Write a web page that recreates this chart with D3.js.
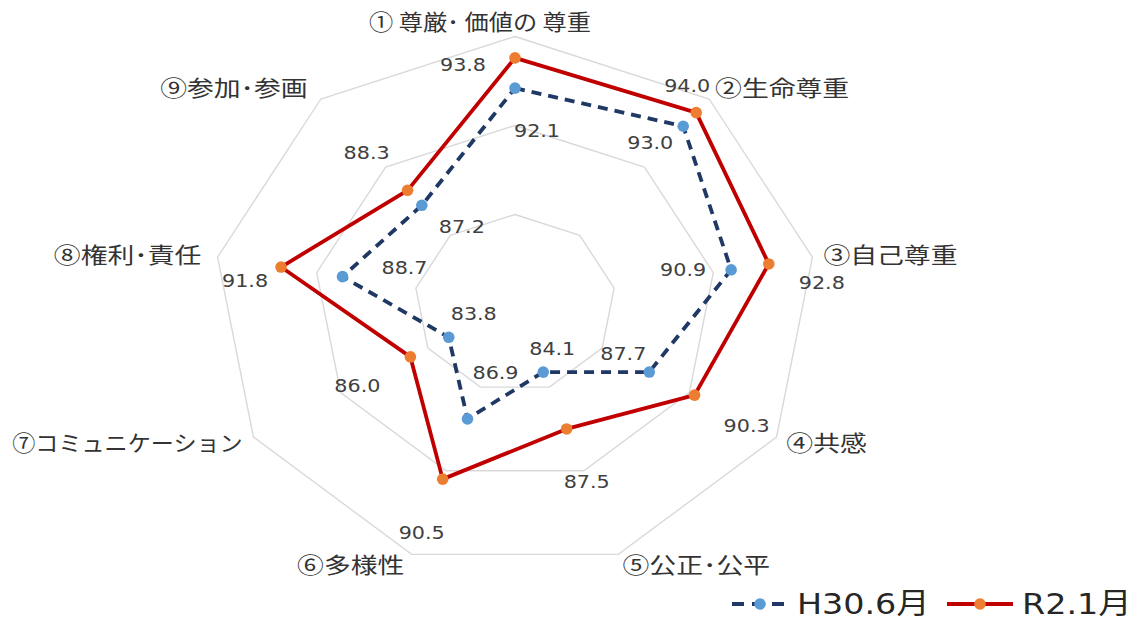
<!DOCTYPE html>
<html>
<head>
<meta charset="utf-8">
<script src="https://cdn.jsdelivr.net/npm/d3@7"></script>
<style>
  html, body { margin: 0; padding: 0; background: #ffffff; }
  svg { display: block; }
</style>
</head>
<body>
<svg id="chart" width="1143" height="622"></svg>
<script>
// ---- data ----
const categories = ["① 尊厳･ 価値の 尊重", "②生命尊重", "③自己尊重", "④共感", "⑤公正･公平", "⑥多様性", "⑦コミュニケーション", "⑧権利･責任", "⑨参加･参画"];
const seriesNames = ["H30.6月", "R2.1月"];
const h30Values = [92.1, 93.0, 90.9, 87.7, 84.1, 86.9, 83.8, 88.7, 87.2];
const r2Values  = [93.8, 94.0, 92.8, 90.3, 87.5, 90.5, 86.0, 91.8, 88.3];
const gridLevels = [85, 90, 95];
const axisMin = 80, axisMax = 95;

// ---- layout / style (not data) ----
const W = 1143, H = 622;
const cx = 515, cy = 303.5;
const RX = 302, RY = 267;     // reference is horizontally stretched
const SX = 1.15;              // text horizontal stretch
const h30LabelOffsets = [[22,42],[-33,16],[-48,0],[-26,-19],[9,-24],[28,-46],[25,-24],[62,-9],[40,21]];
const r2LabelOffsets  = [[-52,7],[-9,-27],[53,19],[52,30],[20,53],[-21,53],[-53,29],[-36,13],[-41,-38]];
const catLabelOffsets = [[-35,-14],[73,-11],[78,-2],[50,6],[78,11],[-61,11],[-126,6],[-90,-2],[-87,-11]];
const catLabelScale   = [1.1, 1.22, 1.22, 1.22, 1.22, 1.22, 1.05, 1.22, 1.22];

const svg = d3.select("#chart");
svg.append("rect").attr("width", W).attr("height", H).attr("fill", "#ffffff");

const rx = d3.scaleLinear().domain([axisMin, axisMax]).range([0, RX]);
const ry = d3.scaleLinear().domain([axisMin, axisMax]).range([0, RY]);
const angle = d3.scaleLinear().domain([0, categories.length]).range([0, 2 * Math.PI]);

const px = (v, i) => cx + rx(v) * Math.sin(angle(i));
const py = (v, i) => cy - ry(v) * Math.cos(angle(i));

// grid polygons
const gridG = svg.append("g");
gridLevels.forEach(level => {
  const pts = categories.map((c, i) => [px(level, i), py(level, i)]);
  gridG.append("path")
    .attr("d", d3.line().curve(d3.curveLinearClosed)(pts))
    .attr("fill", "none")
    .attr("stroke", "#d9d9d9")
    .attr("stroke-width", 1.4);
});

// series
const series = [
  { name: seriesNames[0], values: h30Values, line: "#1f3864", marker: "#5b9bd5", dash: "10,7", offsets: h30LabelOffsets },
  { name: seriesNames[1], values: r2Values,  line: "#c00000", marker: "#ed7d31", dash: null,   offsets: r2LabelOffsets }
];

const lineGen = d3.line().curve(d3.curveLinearClosed);
series.forEach(s => {
  const pts = s.values.map((v, i) => [px(v, i), py(v, i)]);
  const g = svg.append("g");
  g.append("path")
    .attr("d", lineGen(pts))
    .attr("fill", "none")
    .attr("stroke", s.line)
    .attr("stroke-width", 3.8)
    .attr("stroke-linejoin", "round")
    .attr("stroke-dasharray", s.dash);
  g.selectAll("circle").data(pts).join("circle")
    .attr("cx", d => d[0]).attr("cy", d => d[1])
    .attr("r", 5.8)
    .attr("fill", s.marker);
});

// data labels
series.forEach(s => {
  svg.append("g").selectAll("text").data(s.values).join("text")
    .attr("transform", (v, i) => `translate(${px(v, i) + s.offsets[i][0]},${py(v, i) + s.offsets[i][1]}) scale(${SX},1)`)
    .attr("text-anchor", "middle")
    .attr("dy", "0.36em")
    .attr("font-family", "'DejaVu Sans', sans-serif")
    .attr("font-size", 18)
    .attr("fill", "#404040")
    .text(v => v.toFixed(1));
});

// category labels
svg.append("g").selectAll("text").data(categories).join("text")
  .attr("transform", (c, i) => `translate(${px(axisMax, i) + catLabelOffsets[i][0]},${py(axisMax, i) + catLabelOffsets[i][1]}) scale(${catLabelScale[i]},1)`)
  .attr("text-anchor", "middle")
  .attr("dy", "0.36em")
  .attr("font-family", "'Noto Sans CJK JP', sans-serif")
  .attr("font-size", 22)
  .attr("fill", "#333333")
  .text(c => c);

// legend
const legendItems = [
  { s: series[0], x0: 732, x1: 788, tx: 797 },
  { s: series[1], x0: 947, x1: 1013, tx: 1022 }
];
const ly = 604;
const lg = svg.append("g");
legendItems.forEach(it => {
  lg.append("line")
    .attr("x1", it.x0).attr("x2", it.x1).attr("y1", ly).attr("y2", ly)
    .attr("stroke", it.s.line).attr("stroke-width", 3.8)
    .attr("stroke-dasharray", it.s.dash ? "12,8" : null);
  lg.append("circle")
    .attr("cx", (it.x0 + it.x1) / 2).attr("cy", ly).attr("r", 5.8)
    .attr("fill", it.s.marker);
  lg.append("text")
    .attr("transform", `translate(${it.tx},${ly}) scale(${SX},1)`)
    .attr("dy", "0.36em")
    .attr("font-family", "'DejaVu Sans', 'Noto Sans CJK JP', sans-serif")
    .attr("font-size", 29)
    .attr("fill", "#262626")
    .text(it.s.name);
});
</script>
</body>
</html>
